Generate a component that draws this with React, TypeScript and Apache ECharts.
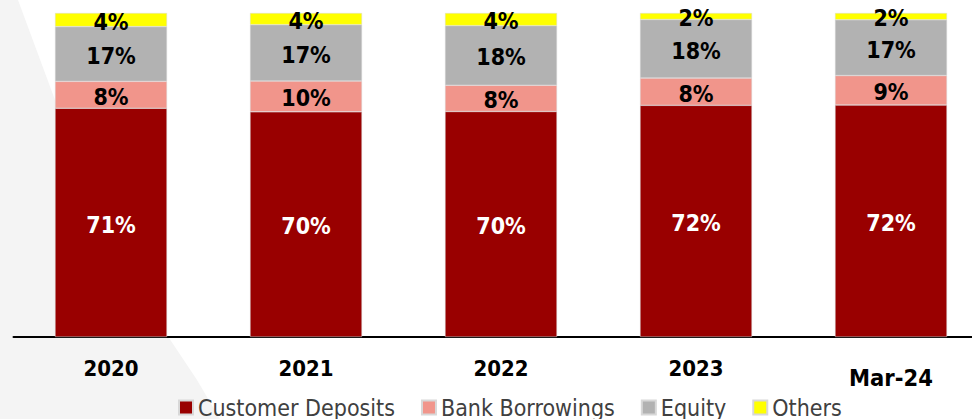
import React, { useEffect, useRef } from "react";
import * as echarts from "echarts";

const categories = ["2020", "2021", "2022", "2023", "Mar-24"];
const seriesNames = ["Customer Deposits", "Bank Borrowings", "Equity", "Others"];
const customerDeposits = [70.6, 69.5, 69.6, 71.5, 71.6];
const bankBorrowings = [8.3, 9.5, 8.1, 8.4, 9.1];
const equity = [16.9, 17.4, 18.4, 18.1, 17.2];
const others = [4.2, 3.6, 3.9, 2.0, 2.1];

const FONT = '"DejaVu Sans Condensed", "DejaVu Sans", sans-serif';
const colors = ["#990000", "#F1958B", "#B2B2B2", "#FFFF00"];
const labelColors = ["#FFFFFF", "#000000", "#000000", "#000000"];

export default function App() {
  const ref = useRef<HTMLDivElement>(null);
  useEffect(() => {
    document.body.style.margin = "0";
    const chart = echarts.init(ref.current!, null, { renderer: "svg" });
    const values = [customerDeposits, bankBorrowings, equity, others];
    const option: any = {
      animation: false,
      backgroundColor: "#FFFFFF",
      graphic: [
        {
          type: "polygon",
          z: 0,
          shape: {
            points: [
              [0, 0],
              [18, 0],
              [55, 100],
              [110, 225],
              [167, 335],
              [197, 380],
              [220, 419],
              [0, 419],
            ],
          },
          style: { fill: "#F4F4F4" },
        },
      ],
      grid: { left: 13.5, top: 13, width: 975, height: 324 },
      legend: {
        left: 178,
        top: 396,
        padding: 0,
        itemWidth: 14,
        itemHeight: 14,
        itemGap: 26,
        icon: "rect",
        textStyle: { color: "#404040", fontSize: 23, fontFamily: FONT },
        data: seriesNames,
      },
      xAxis: {
        type: "category",
        data: categories,
        axisLine: { lineStyle: { color: "#000000", width: 2 } },
        axisTick: { show: false },
        axisLabel: {
          margin: 20,
          color: "#000000",
          fontSize: 22,
          fontWeight: "bold",
          fontFamily: FONT,
          formatter: (v: string) => (v === "Mar-24" ? "{m|" + v + "}" : v),
          rich: {
            m: { fontSize: 23.5, fontWeight: "bold", fontFamily: FONT, color: "#000", padding: [9, 0, 0, 0] },
          },
        },
      },
      yAxis: { type: "value", min: 0, max: 100, show: false, splitLine: { show: false } },
      series: seriesNames.map((name, i) => ({
        name,
        type: "bar",
        stack: "total",
        barWidth: 112,
        data: values[i],
        itemStyle: { color: colors[i], borderColor: "#D8D8D8", borderWidth: 0.5 },
        label: {
          show: true,
          position: "inside",
          offset: [0, 2],
          color: labelColors[i],
          fontSize: 23,
          fontWeight: "bold",
          fontFamily: FONT,
          formatter: (p: any) => Math.round(p.value) + "%",
        },
      })),
    };
    chart.setOption(option);
    return () => chart.dispose();
  }, []);
  return (
    <div style={{ width: 972, height: 419, overflow: "hidden", position: "relative" }}>
      <div ref={ref} style={{ width: 1000, height: 419 }} />
    </div>
  );
}
